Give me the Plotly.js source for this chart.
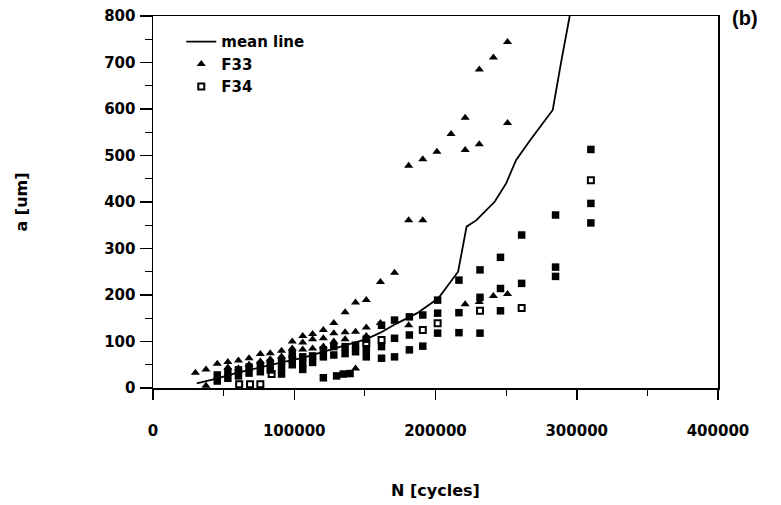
<!DOCTYPE html>
<html>
<head>
<meta charset="utf-8">
<script src="https://cdn.plot.ly/plotly-3.0.1.min.js"></script>
<style>html,body{margin:0;padding:0;background:#fff;}#chart{width:781px;height:505px;}</style>
</head>
<body>
<div id="chart"></div>
<script>
// Mean line
const meanN = [31000, 45000, 60000, 76000, 91000, 106000, 121000, 136000, 151000, 161000, 172000, 187000, 202000, 216000, 222000, 229000, 242000, 250000, 257000, 267000, 283000, 289000, 295000];
const meanA = [10, 20, 33, 45, 55, 65, 78, 92, 105, 119, 138, 161, 193, 250, 347, 361, 401, 440, 490, 533, 598, 702, 800];

// F33 (triangles)
const f33N = [30000, 37500, 37500, 45500, 53000, 53000, 60500, 60500, 68000, 68000, 76000, 76000, 83000, 83000, 91000, 91000,
  98600, 98600, 98600, 106000, 106000, 106000, 113000, 113000, 113000, 120600, 120600, 120600, 128000, 128000, 128000,
  136000, 136000, 136000, 143400, 143400, 143400, 151000, 151000, 151000, 161000, 161000, 171000,
  181000, 181000, 181000, 191000, 191000, 201000, 211000, 221000, 221000, 221000, 231000, 231000, 231000,
  241000, 241000, 251000, 251000, 251000];
const f33A = [33, 40, 5, 52, 56, 44, 59, 42, 64, 50, 73, 57, 75, 62, 80, 68,
  100, 85, 70, 112, 98, 83, 116, 105, 85, 125, 107, 89, 140, 118, 100,
  163, 120, 105, 184, 121, 42, 189, 130, 112, 228, 140, 248,
  478, 361, 135, 492, 361, 508, 546, 581, 512, 180, 685, 524, 185,
  711, 198, 744, 570, 202];

// F34 (open squares)
const f34N = [61000, 68700, 76000, 84000, 151000, 161800, 191000, 201500, 231500, 261000, 310000];
const f34A = [8, 8, 8, 30, 97, 103, 125, 139, 166, 172, 447];

// F34 (filled squares)
const f34fN = [45500, 45500, 53000, 53000, 60500, 60500, 68000, 68000, 76000, 76000, 83000, 83000, 91000, 91000, 91000,
  98600, 98600, 98600, 106000, 106000, 106000, 113000, 113000, 120600, 120600, 120600, 128000, 128000, 130000, 134700,
  136000, 136000, 139500, 143400, 143400, 151000, 151000, 151000, 161800, 161800, 161800, 171000, 171000, 171000,
  181500, 181500, 181500, 191000, 191000, 201500, 201500, 201500, 216600, 216600, 216600, 231500, 231500, 231500,
  246000, 246000, 246000, 261000, 261000, 285000, 285000, 285000, 310000, 310000, 310000];
const f34fA = [28, 15, 35, 21, 39, 26, 45, 32, 49, 35, 53, 39, 58, 45, 30,
  75, 62, 50, 67, 53, 40, 69, 55, 82, 67, 22, 89, 71, 26, 30,
  89, 74, 31, 92, 78, 105, 82, 67, 135, 89, 64, 146, 107, 67,
  153, 114, 82, 157, 90, 189, 161, 118, 232, 162, 119, 254, 195, 118,
  281, 214, 166, 329, 225, 372, 260, 240, 513, 397, 355];

const xTicks = [0, 100000, 200000, 300000, 400000];
const xTickText = ['0', '100000', '200000', '300000', '400000'];
const yTicks = [0, 100, 200, 300, 400, 500, 600, 700, 800];

const FONT = 'DejaVu Sans, Liberation Sans, Arial, sans-serif';

const traces = [
  {x: meanN, y: meanA, mode: 'lines', name: 'mean line', line: {color: '#000', width: 1.8}, cliponaxis: true},
  {x: f33N, y: f33A, mode: 'markers', name: 'F33', marker: {symbol: 'triangle-up', size: 8, color: '#000'}},
  {x: f34N, y: f34A, mode: 'markers', name: 'F34', marker: {symbol: 'square-open', size: 6, color: '#000', line: {width: 2, color: '#000'}}},
  {x: f34fN, y: f34fA, mode: 'markers', name: 'F34 ', showlegend: false, marker: {symbol: 'square', size: 7.5, color: '#000'}}
];

const layout = {
  width: 781, height: 505,
  margin: {l: 153, r: 63, t: 16, b: 117, pad: 0},
  paper_bgcolor: '#fff', plot_bgcolor: '#fff',
  showlegend: true,
  font: {family: FONT, color: '#000', size: 15, weight: 'bold'},
  legend: {x: 0.05, y: 0.975, xanchor: 'left', yanchor: 'top', bgcolor: 'rgba(0,0,0,0)',
    font: {family: FONT, size: 15, color: '#000', weight: 'bold'}, tracegroupgap: 0, itemwidth: 30},
  xaxis: {
    range: [0, 400000], tickvals: xTicks, ticktext: xTickText,
    ticks: 'outside', ticklen: 10, tickwidth: 1.5, tickcolor: '#000',
    minor: {dtick: 50000, tick0: 0, ticks: 'outside', ticklen: 6, tickwidth: 1.2, tickcolor: '#000', showgrid: false},
    showline: true, linecolor: '#000', linewidth: 1.5, mirror: true,
    showgrid: false, zeroline: false, ticklabelstandoff: 18,
    tickfont: {family: FONT, size: 15, color: '#000', weight: 'bold'},
    title: {text: 'N [cycles]', standoff: 46, font: {family: FONT, size: 16, color: '#000', weight: 'bold'}}
  },
  yaxis: {
    range: [0, 800], tickvals: yTicks,
    ticks: 'outside', ticklen: 12, tickwidth: 1.5, tickcolor: '#000',
    minor: {dtick: 50, tick0: 0, ticks: 'outside', ticklen: 7, tickwidth: 1.2, tickcolor: '#000', showgrid: false},
    showline: true, linecolor: '#000', linewidth: 1.5, mirror: true,
    showgrid: false, zeroline: false, ticklabelstandoff: 1,
    tickfont: {family: FONT, size: 15, color: '#000', weight: 'bold'},
    title: {text: 'a [um]', standoff: 72, font: {family: FONT, size: 16, color: '#000', weight: 'bold'}}
  },
  annotations: [{
    text: '(b)', xref: 'paper', yref: 'paper', x: 1.048, y: 0.995, xanchor: 'center', yanchor: 'middle',
    showarrow: false, font: {family: 'Liberation Sans, Arial, sans-serif', size: 20, color: '#000', weight: 'bold'}
  }]
};

Plotly.newPlot('chart', traces, layout, {displayModeBar: false, staticPlot: true});
</script>
</body>
</html>
